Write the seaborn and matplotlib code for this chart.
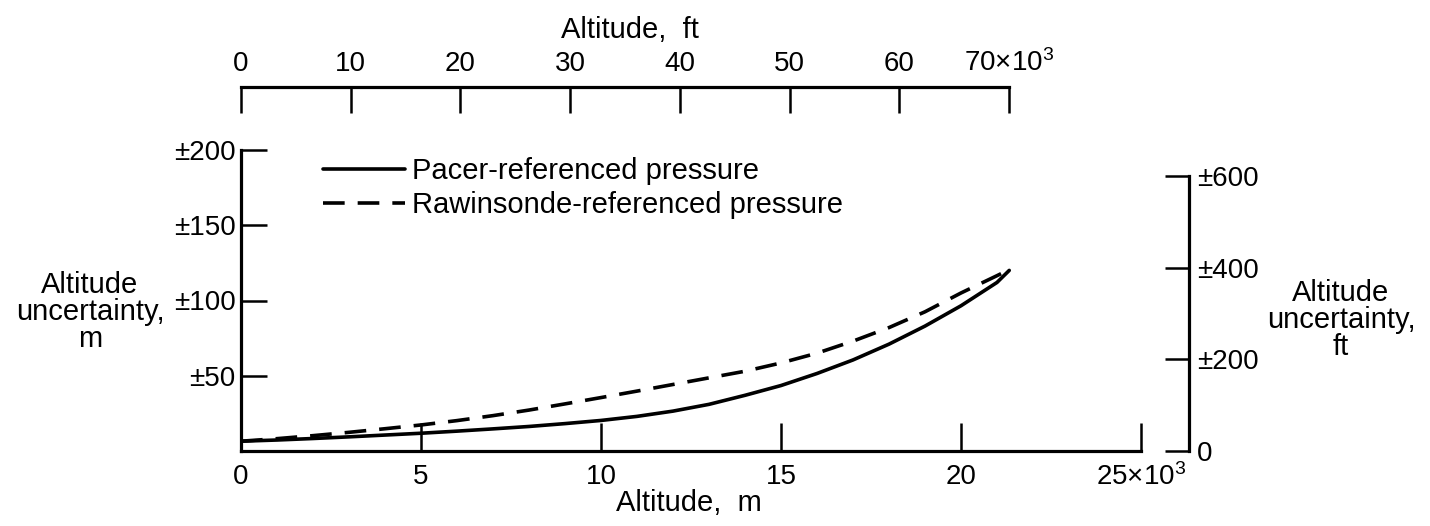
import matplotlib
matplotlib.use("Agg")
import matplotlib.pyplot as plt
from matplotlib import font_manager
import seaborn as sns

# altitude, km (x 10^3 m)
alt_km = [0, 1, 2, 3, 4, 5, 6, 7, 8, 9, 10, 11, 12, 13, 14, 15, 16, 17, 18, 19, 20, 21, 21.34]
# altitude uncertainty, +/- m
pacer_m = [6.5, 7.3, 8.3, 9.4, 10.6, 11.8, 13.2, 14.7, 16.3, 18.2, 20.3, 23, 26.5, 31, 37,
           43.5, 51.5, 60.5, 71, 83, 96.5, 112, 120]
rawin_m = [6.5, 8.2, 10.2, 12.4, 14.8, 17.3, 20.2, 23.5, 27.2, 31.3, 35.5, 39.8, 44.2, 48.6, 53,
           58.5, 65, 73, 82, 92.5, 105, 116.5, 120.5]

labels = ['Pacer-referenced pressure', 'Rawinsonde-referenced pressure']

x_ticks_m = [0, 5, 10, 15, 20, 25]
x_labels_m = ['0', '5', '10', '15', '20', '25×10$^{3}$']
x_ticks_ft = [0, 10, 20, 30, 40, 50, 60, 70]
x_labels_ft = ['0', '10', '20', '30', '40', '50', '60', '70×10$^{3}$']
y_ticks_m = [50, 100, 150, 200]
y_labels_m = ['±50', '±100', '±150', '±200']
y_ticks_ft = [0, 200, 400, 600]
y_labels_ft = ['0', '±200', '±400', '±600']

sns.set_style('white')
names = {f.name for f in font_manager.fontManager.ttflist}
text_font = 'Liberation Sans' if 'Liberation Sans' in names else 'DejaVu Sans'
tick_font = 'Liberation Sans Narrow' if 'Liberation Sans Narrow' in names else text_font
plt.rcParams['font.family'] = [text_font, 'DejaVu Sans']
plt.rcParams['text.color'] = 'black'
plt.rcParams['mathtext.fontset'] = 'custom'
plt.rcParams['mathtext.rm'] = tick_font
plt.rcParams['mathtext.it'] = tick_font
plt.rcParams['mathtext.bf'] = tick_font

W, H = 1430, 526
def fx(px):
    return px / W
def fy(py):
    return 1 - py / H

FS = 21
TFS = 20 if tick_font == text_font else 22
LW = 2.3

fig = plt.figure(figsize=(14.3, 5.26), dpi=100)

# main axes (metres)
ax = fig.add_axes([fx(241), fy(451), fx(1141) - fx(241), fy(150) - fy(451)])
ax.set_facecolor('none')
sns.lineplot(x=alt_km, y=pacer_m, ax=ax, color='black', lw=2.6, label=labels[0])
sns.lineplot(x=alt_km, y=rawin_m, ax=ax, color='black', lw=2.6,
             linestyle=(0, (6, 3.6)), label=labels[1])
ax.set_xlim(0, 25)
ax.set_ylim(0, 200)
for s in ['top', 'right']:
    ax.spines[s].set_visible(False)
for s in ['left', 'bottom']:
    ax.spines[s].set_linewidth(LW)
    ax.spines[s].set_color('black')
ax.set_xticks(x_ticks_m)
ax.set_xticklabels(x_labels_m, fontfamily=tick_font)
ax.set_yticks(y_ticks_m)
ax.set_yticklabels(y_labels_m, fontfamily=tick_font)
ax.tick_params(axis='x', bottom=True, direction='in', length=20, width=1.8, pad=9,
               labelsize=TFS, colors='black')
ax.tick_params(axis='y', left=True, direction='in', length=19, width=1.8, pad=4,
               labelsize=TFS, colors='black')
ax.set_xlabel('')
ax.set_ylabel('')
ax.legend(loc='upper left', bbox_to_anchor=(fx(323), fy(157)), bbox_transform=fig.transFigure,
          frameon=False, handlelength=2.8, handletextpad=0.25, labelspacing=0.2,
          borderpad=0, borderaxespad=0, prop={'family': text_font, 'size': FS})

# right axis (feet)
axr = fig.add_axes([fx(241), fy(451), fx(1189) - fx(241), fy(150) - fy(451)], facecolor='none')
axr.set_xlim(0, 1)
axr.set_ylim(0, 200 / 0.3048)
for s in ['top', 'left', 'bottom']:
    axr.spines[s].set_visible(False)
axr.spines['right'].set_linewidth(LW)
axr.spines['right'].set_color('black')
axr.spines['right'].set_bounds(0, 600)
axr.set_xticks([])
axr.yaxis.tick_right()
axr.set_yticks(y_ticks_ft)
axr.set_yticklabels(y_labels_ft, fontfamily=tick_font)
axr.tick_params(axis='y', right=True, direction='in', length=17, width=1.8, pad=6,
                labelsize=TFS, colors='black')

# top axis (feet)
axt = fig.add_axes([fx(241), fy(87) - 0.05, fx(1141) - fx(241), 0.05], facecolor='none')
axt.set_xlim(0, 25 / 0.3048)
axt.set_ylim(0, 1)
for s in ['right', 'left', 'bottom']:
    axt.spines[s].set_visible(False)
axt.spines['top'].set_linewidth(LW)
axt.spines['top'].set_color('black')
axt.spines['top'].set_bounds(0, 70)
axt.set_yticks([])
axt.xaxis.tick_top()
axt.set_xticks(x_ticks_ft)
axt.set_xticklabels(x_labels_ft, fontfamily=tick_font)
axt.tick_params(axis='x', top=True, direction='in', length=19, width=1.8, pad=7,
                labelsize=TFS, colors='black')

fig.text(fx(630), fy(30), 'Altitude,  ft', ha='center', va='center', fontsize=FS)
fig.text(fx(689), fy(503), 'Altitude,  m', ha='center', va='center', fontsize=FS)
fig.text(fx(90), fy(312), 'Altitude\nuncertainty,\nm', ha='center', va='center',
         multialignment='center', linespacing=0.95, fontsize=FS)
fig.text(fx(1341), fy(320), 'Altitude\nuncertainty,\nft', ha='center', va='center',
         multialignment='center', linespacing=0.95, fontsize=FS)

fig.savefig('out.png', dpi=100, facecolor='white')
